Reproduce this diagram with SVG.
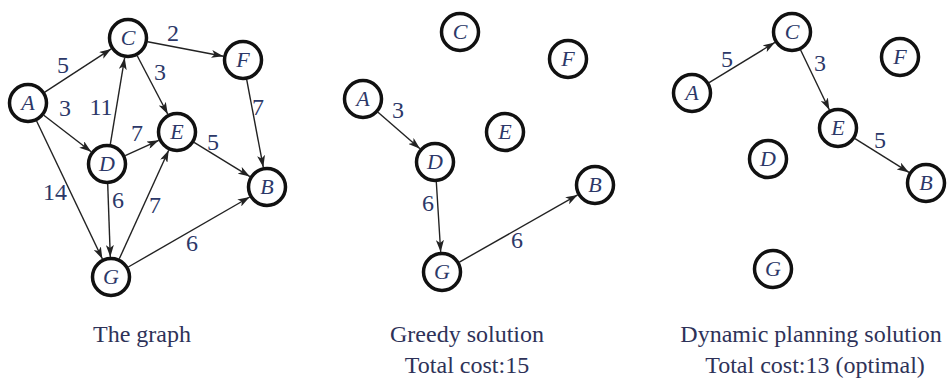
<svg xmlns="http://www.w3.org/2000/svg" width="950" height="380" viewBox="0 0 950 380">
  <style>
    .node circle { fill: #ffffff; stroke: #111111; stroke-width: 3.5; }
    .node text { font-family: "Liberation Serif", "Times New Roman", serif; font-style: italic; font-size: 22px; fill: #2c3868; text-anchor: middle; }
    .edges line { stroke: #222222; stroke-width: 1.4; marker-end: url(#arrow); }
    .wt { font-family: "Liberation Serif", "Times New Roman", serif; font-size: 24px; fill: #2c3868; text-anchor: middle; }
    .cap { font-family: "Liberation Serif", "Times New Roman", serif; font-size: 24px; fill: #2e3258; text-anchor: middle; }
  </style>
  <defs>
    <marker id="arrow" markerUnits="userSpaceOnUse" markerWidth="13" markerHeight="8" refX="12" refY="4" orient="auto">
      <path d="M0,0 L12,4 L0,8 L3,4 z" fill="#222222"/>
    </marker>
  </defs>
  <rect width="950" height="380" fill="#ffffff"/>

  <!-- Panel 1: the full graph -->
  <g id="graph-edges" class="edges">
    <line x1="44.8" y1="92.1" x2="111.2" y2="48.9"/>
    <line x1="43.8" y1="115.2" x2="91.2" y2="151.8"/>
    <line x1="36.6" y1="121.0" x2="102.4" y2="259.0"/>
    <line x1="147.6" y1="41.8" x2="223.4" y2="56.2"/>
    <line x1="137.2" y1="55.7" x2="167.8" y2="114.3"/>
    <line x1="110.3" y1="144.3" x2="124.7" y2="57.7"/>
    <line x1="125.2" y1="155.7" x2="158.8" y2="140.3"/>
    <line x1="107.7" y1="184.0" x2="110.3" y2="257.0"/>
    <line x1="119.3" y1="258.8" x2="168.7" y2="150.2"/>
    <line x1="128.3" y1="267.0" x2="249.7" y2="197.0"/>
    <line x1="194.1" y1="142.4" x2="249.9" y2="176.6"/>
    <line x1="246.7" y1="79.7" x2="263.3" y2="167.3"/>
  </g>
  <g id="graph-weights">
    <text class="wt" x="63" y="73">5</text>
    <text class="wt" x="65" y="116">3</text>
    <text class="wt" x="101" y="115">11</text>
    <text class="wt" x="173" y="41">2</text>
    <text class="wt" x="160" y="80">3</text>
    <text class="wt" x="258" y="115">7</text>
    <text class="wt" x="137" y="141">7</text>
    <text class="wt" x="213" y="150">5</text>
    <text class="wt" x="55" y="200">14</text>
    <text class="wt" x="118" y="208">6</text>
    <text class="wt" x="155" y="213">7</text>
    <text class="wt" x="192" y="251">6</text>
  </g>
  <g id="g1-A" class="node"><circle cx="28" cy="103" r="18.5"/><text x="28" y="110">A</text></g>
  <g id="g1-C" class="node"><circle cx="128" cy="38" r="18.5"/><text x="128" y="45">C</text></g>
  <g id="g1-F" class="node"><circle cx="243" cy="60" r="18.5"/><text x="243" y="67">F</text></g>
  <g id="g1-E" class="node"><circle cx="177" cy="132" r="18.5"/><text x="177" y="139">E</text></g>
  <g id="g1-D" class="node"><circle cx="107" cy="164" r="18.5"/><text x="107" y="171">D</text></g>
  <g id="g1-B" class="node"><circle cx="267" cy="187" r="18.5"/><text x="267" y="194">B</text></g>
  <g id="g1-G" class="node"><circle cx="111" cy="277" r="18.5"/><text x="111" y="284">G</text></g>
  <text class="cap" x="142" y="342">The graph</text>

  <!-- Panel 2: greedy path A-D-G-B -->
  <g id="greedy-edges" class="edges">
    <line x1="378.0" y1="112.2" x2="420.0" y2="148.8"/>
    <line x1="436.3" y1="182.0" x2="440.7" y2="252.0"/>
    <line x1="459.4" y1="262.1" x2="577.6" y2="194.9"/>
  </g>
  <g id="greedy-weights">
    <text class="wt" x="398" y="118">3</text>
    <text class="wt" x="428" y="211">6</text>
    <text class="wt" x="517" y="248">6</text>
  </g>
  <g id="g2-A" class="node"><circle cx="363" cy="99" r="18.5"/><text x="363" y="106">A</text></g>
  <g id="g2-C" class="node"><circle cx="460" cy="32" r="18.5"/><text x="460" y="39">C</text></g>
  <g id="g2-F" class="node"><circle cx="568" cy="59" r="18.5"/><text x="568" y="66">F</text></g>
  <g id="g2-E" class="node"><circle cx="505" cy="132" r="18.5"/><text x="505" y="139">E</text></g>
  <g id="g2-D" class="node"><circle cx="435" cy="162" r="18.5"/><text x="435" y="169">D</text></g>
  <g id="g2-B" class="node"><circle cx="595" cy="185" r="18.5"/><text x="595" y="192">B</text></g>
  <g id="g2-G" class="node"><circle cx="442" cy="272" r="18.5"/><text x="442" y="279">G</text></g>
  <text class="cap" x="467" y="342">Greedy solution</text>
  <text class="cap" x="467" y="373">Total cost:15</text>

  <!-- Panel 3: optimal path A-C-E-B -->
  <g id="dp-edges" class="edges">
    <line x1="709.1" y1="82.6" x2="774.9" y2="42.4"/>
    <line x1="800.6" y1="50.0" x2="829.4" y2="110.0"/>
    <line x1="855.0" y1="138.6" x2="909.0" y2="172.4"/>
  </g>
  <g id="dp-weights">
    <text class="wt" x="727" y="67">5</text>
    <text class="wt" x="820" y="71">3</text>
    <text class="wt" x="880" y="148">5</text>
  </g>
  <g id="g3-A" class="node"><circle cx="692" cy="93" r="18.5"/><text x="692" y="100">A</text></g>
  <g id="g3-C" class="node"><circle cx="792" cy="32" r="18.5"/><text x="792" y="39">C</text></g>
  <g id="g3-F" class="node"><circle cx="900" cy="57" r="18.5"/><text x="900" y="64">F</text></g>
  <g id="g3-E" class="node"><circle cx="838" cy="128" r="18.5"/><text x="838" y="135">E</text></g>
  <g id="g3-D" class="node"><circle cx="768" cy="159" r="18.5"/><text x="768" y="166">D</text></g>
  <g id="g3-B" class="node"><circle cx="926" cy="183" r="18.5"/><text x="926" y="190">B</text></g>
  <g id="g3-G" class="node"><circle cx="773" cy="269" r="18.5"/><text x="773" y="276">G</text></g>
  <text class="cap" x="811" y="342">Dynamic planning solution</text>
  <text class="cap" x="815" y="373">Total cost:13 (optimal)</text>
</svg>
